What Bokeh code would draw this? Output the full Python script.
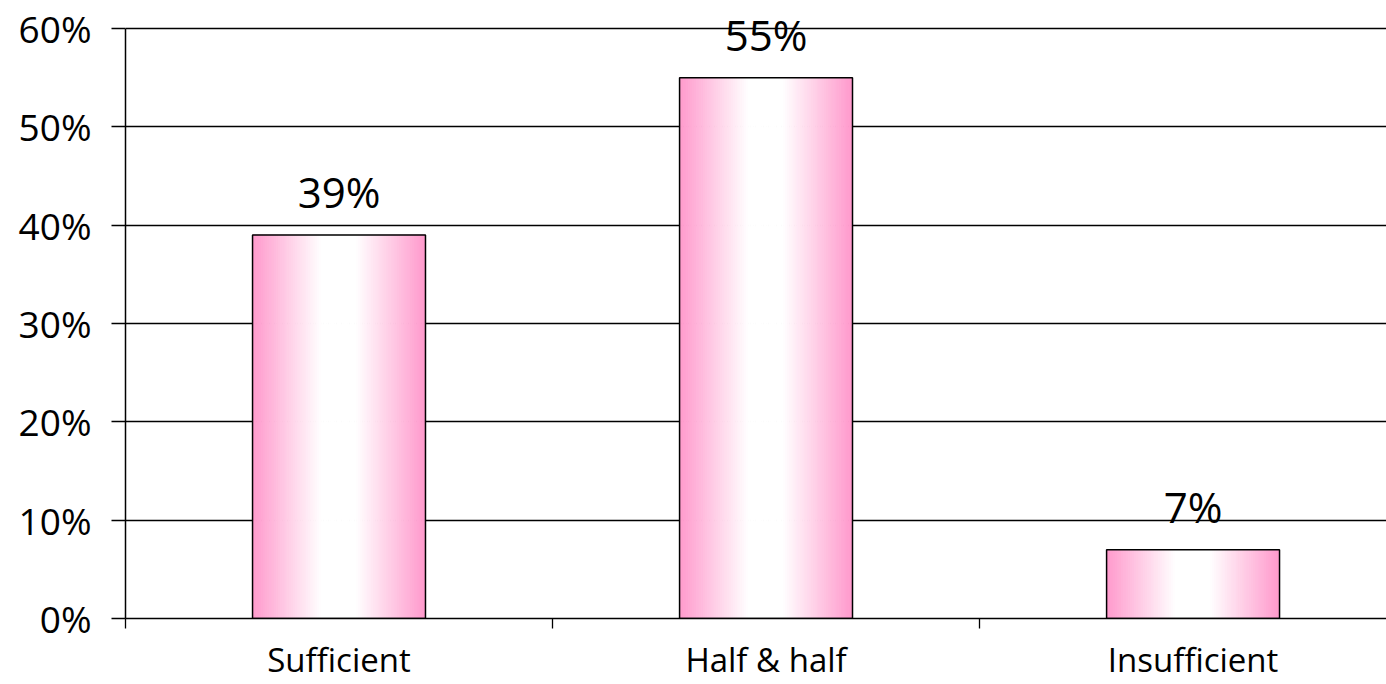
import numpy as np
import pandas as pd
from bokeh.plotting import figure
from bokeh.models import Range1d, FixedTicker, ColumnDataSource, LabelSet
from bokeh.core.properties import value
from bokeh.embed import file_html
from bokeh.resources import INLINE

# ---- data ----
categories = ["Sufficient", "Half & half", "Insufficient"]
values = [0.39, 0.55, 0.07]
value_labels = ["39%", "55%", "7%"]
y_ticks = [0, 0.1, 0.2, 0.3, 0.4, 0.5, 0.6]
y_tick_labels = ["0%", "10%", "20%", "30%", "40%", "50%", "60%"]

FONT = "Open Sans"
PINK = np.array([255, 153, 204])
WHITE = np.array([255, 255, 255])
BAR_W = 0.405

x_centers = [i + 0.5 for i in range(len(categories))]

p = figure(width=1386, height=684, output_backend="svg", toolbar_location=None,
           x_range=Range1d(0, 2.953), y_range=Range1d(0, 0.6285),
           min_border_left=125, min_border_right=0, min_border_top=0,
           min_border_bottom=66)
p.outline_line_color = None
p.background_fill_color = "white"
p.border_fill_color = "white"

# gradient strips per bar
N = 80
rows = []
for xc, v in zip(x_centers, values):
    left0 = xc - BAR_W / 2
    for k in range(N):
        t = (k + 0.5) / N
        if t < 0.4:
            f = t / 0.4
        elif t <= 0.6:
            f = 1.0
        else:
            f = (1 - t) / 0.4
        c = PINK + (WHITE - PINK) * f
        col = "#%02x%02x%02x" % tuple(int(round(a)) for a in c)
        rows.append(dict(left=left0 + k * BAR_W / N, right=left0 + (k + 1) * BAR_W / N,
                         top=v, bottom=0, color=col))
strips = pd.DataFrame(rows)
p.quad(left="left", right="right", top="top", bottom="bottom", source=ColumnDataSource(strips),
       fill_color="color", line_color="color", line_width=1)

src = ColumnDataSource(dict(x=x_centers, top=values, lab=value_labels))
p.vbar(x="x", top="top", width=BAR_W, source=src, fill_color=None,
       line_color="black", line_width=1.5)

labels = LabelSet(x="x", y="top", text="lab", source=src, text_align="center",
                  text_baseline="alphabetic", y_offset=27, text_font=value(FONT),
                  text_font_size="42px", text_color="black")
p.add_layout(labels)

# grid
p.xgrid.grid_line_color = None
p.ygrid.ticker = FixedTicker(ticks=y_ticks)
p.ygrid.grid_line_color = "black"
p.ygrid.grid_line_width = 1.3

# y axis
p.yaxis.ticker = FixedTicker(ticks=y_ticks)
p.yaxis.bounds = (0, 0.6)
p.yaxis.major_label_overrides = {t: l for t, l in zip(y_ticks, y_tick_labels)}
p.yaxis.major_tick_out = 14
p.yaxis.major_tick_in = 0
p.yaxis.minor_tick_line_color = None
p.yaxis.axis_line_color = "black"
p.yaxis.axis_line_width = 1.5
p.yaxis.major_tick_line_width = 1.3
p.yaxis.major_label_text_font = FONT
p.yaxis.major_label_text_font_size = "37px"
p.yaxis.major_label_text_color = "black"
p.yaxis.major_label_standoff = 20

# x axis
p.xaxis.ticker = FixedTicker(ticks=x_centers, minor_ticks=[0, 1, 2, 3])
p.xaxis.major_label_overrides = {x: c for x, c in zip(x_centers, categories)}
p.xaxis.major_tick_line_color = None
p.xaxis.major_tick_out = 0
p.xaxis.major_tick_in = 0
p.xaxis.minor_tick_out = 10
p.xaxis.minor_tick_in = 0
p.xaxis.minor_tick_line_color = "black"
p.xaxis.minor_tick_line_width = 1.3
p.xaxis.axis_line_color = "black"
p.xaxis.axis_line_width = 1.5
p.xaxis.major_label_text_font = FONT
p.xaxis.major_label_text_font_size = "33px"
p.xaxis.major_label_text_color = "black"
p.xaxis.major_label_standoff = 8

open("out.html", "w").write(file_html(p, INLINE))
